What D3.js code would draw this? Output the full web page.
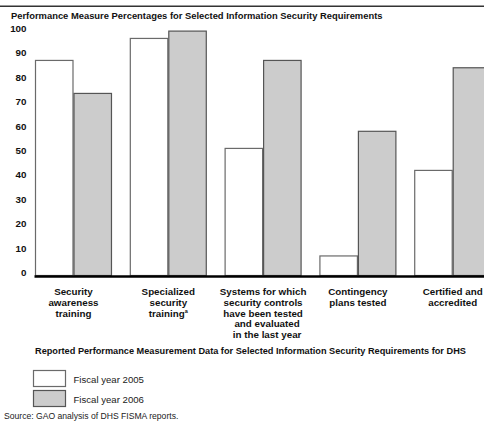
<!DOCTYPE html>
<html>
<head>
<meta charset="utf-8">
<script src="https://cdn.jsdelivr.net/npm/d3@7"></script>
<style>
  html, body { margin: 0; padding: 0; background: #fff; }
  svg { display: block; font-family: "Liberation Sans", Arial, Helvetica, sans-serif; }
</style>
</head>
<body>
<svg id="chart" width="484" height="421"></svg>
<script>
// Requirement categories (multi-line labels)
const categories = [
  ["Security", "awareness", "training"],
  ["Specialized", "security", "training"],
  ["Systems for which", "security controls", "have been tested", "and evaluated", "in the last year"],
  ["Contingency", "plans tested"],
  ["Certified and", "accredited"]
];
const seriesNames = ["Fiscal year 2005", "Fiscal year 2006"];
const fy2005 = [88, 97, 52, 8, 43];
const fy2006 = [74.5, 100, 88, 59, 85];
const yTicks = [0, 10, 20, 30, 40, 50, 60, 70, 80, 90, 100];

const fills = ["#ffffff", "#cccccc"];
const strokes = ["#6a6a6a", "#555555"];

const svg = d3.select("#chart");

// top rule
svg.append("line")
  .attr("x1", 0).attr("x2", 484).attr("y1", 6.3).attr("y2", 6.3)
  .attr("stroke", "#333").attr("stroke-width", 1.5);

svg.append("text")
  .attr("x", 11).attr("y", 19)
  .attr("font-size", 9.4).attr("font-weight", "bold").attr("fill", "#111")
  .text("Performance Measure Percentages for Selected Information Security Requirements");

const y = d3.scaleLinear().domain([0, 100]).range([275.5, 31.1]);

const x = d3.scaleBand()
  .domain(d3.range(categories.length))
  .range([35, 491.2])
  .paddingInner(0.188)
  .paddingOuter(0);

const xs = d3.scaleBand().domain([0, 1]).range([0, x.bandwidth()]);

// y tick labels (no axis line)
svg.append("g").selectAll("text")
  .data(yTicks).join("text")
  .attr("x", 26.5).attr("y", d => y(d) + 0.7)
  .attr("text-anchor", "end")
  .attr("font-size", 9.8).attr("font-weight", "bold").attr("fill", "#111")
  .text(d => d);

const data = categories.map((c, i) => [fy2005[i], fy2006[i]]);

const groups = svg.append("g").selectAll("g")
  .data(data).join("g")
  .attr("transform", (d, i) => `translate(${x(i)},0)`);

groups.selectAll("rect")
  .data(d => d.map((v, s) => ({ v, s })))
  .join("rect")
  .attr("x", d => xs(d.s) + 0.5)
  .attr("y", d => y(d.v))
  .attr("width", xs.bandwidth() - 1)
  .attr("height", d => y(0) - y(d.v))
  .attr("fill", d => fills[d.s])
  .attr("stroke", d => strokes[d.s])
  .attr("stroke-width", 1.2);

// baseline
svg.append("line")
  .attr("x1", 34.5).attr("x2", 484).attr("y1", y(0) + 1).attr("y2", y(0) + 1)
  .attr("stroke", "#000").attr("stroke-width", 2.6);

// category labels
const labelG = svg.append("g");
categories.forEach((lines, i) => {
  const t = labelG.append("text")
    .attr("x", x(i) + x.bandwidth() / 2)
    .attr("y", 295.3)
    .attr("text-anchor", "middle")
    .attr("font-size", 9.8).attr("font-weight", "bold").attr("fill", "#111");
  lines.forEach((ln, k) => {
    const ts = t.append("tspan")
      .attr("x", x(i) + x.bandwidth() / 2 + (i === 2 && k >= 3 ? 4 : 0))
      .attr("dy", k === 0 ? 0 : 10.6)
      .text(ln);
    if (i === 1 && k === 2) {
      ts.append("tspan").attr("font-size", 5.5).attr("dy", -3.5).text("a");
    }
  });
});

svg.append("text")
  .attr("x", 35).attr("y", 353.5)
  .attr("font-size", 9.2).attr("font-weight", "bold").attr("fill", "#111")
  .text("Reported Performance Measurement Data for Selected Information Security Requirements for DHS");

// legend
const legend = svg.append("g");
seriesNames.forEach((name, s) => {
  legend.append("rect")
    .attr("x", 33.5).attr("y", 370.5 + s * 20)
    .attr("width", 32).attr("height", 16)
    .attr("fill", fills[s]).attr("stroke", strokes[s]).attr("stroke-width", 1.2);
  legend.append("text")
    .attr("x", 73.5).attr("y", 382.7 + s * 20)
    .attr("font-size", 9.6).attr("fill", "#222")
    .text(name);
});

svg.append("text")
  .attr("x", 4).attr("y", 419)
  .attr("font-size", 8.6).attr("fill", "#222")
  .text("Source: GAO analysis of DHS FISMA reports.");
</script>
</body>
</html>
